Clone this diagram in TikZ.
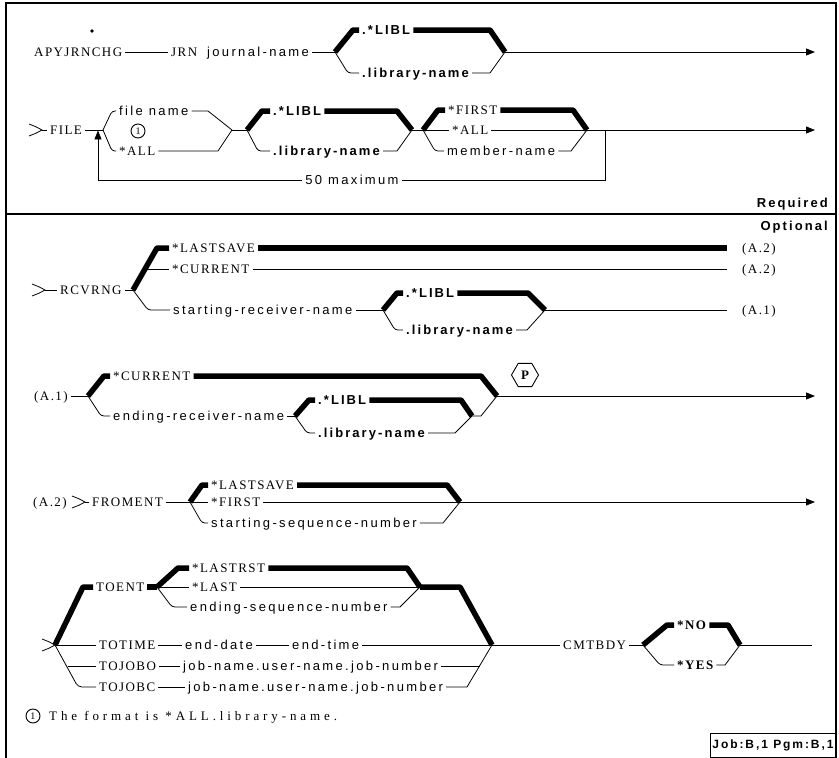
\documentclass[tikz,border=0pt]{standalone}
\usepackage{fontspec}
\setmainfont{Liberation Serif}
\newfontfamily\kwf{Liberation Serif}[LetterSpace=11]
\newfontfamily\ftf{Liberation Serif}[LetterSpace=30]
\newfontfamily\vrf{Liberation Sans}[LetterSpace=18]
\newfontfamily\bdf{Liberation Sans}[LetterSpace=16]
\usetikzlibrary{arrows.meta,shapes.geometric}
\newcommand\KW{\kwf\fontsize{13}{15}\selectfont}
\newcommand\VR{\vrf\fontsize{13}{15}\selectfont}
\newcommand\BD{\bdf\bfseries\fontsize{13}{15}\selectfont}
\newcommand\gtmark[2]{\draw[thn, line join=miter] (#1-13,#2-6) -- (#1-6,#2-3.2) -- (#1,#2) -- (#1-6,#2+3.2) -- (#1-13,#2+6);}
\tikzset{
 tx/.style={anchor=west, inner xsep=3pt, inner ysep=1pt, text height=9pt, text depth=0pt},
 kw/.style={tx, font=\KW},
 kwb/.style={tx, font=\KW\bfseries},
 vr/.style={tx, font=\VR},
 bd/.style={tx, font=\BD},
 thn/.style={line width=0.8pt},
 thk/.style={line width=5.5pt, line join=round},
 arr/.style={thn, -{Triangle[length=9pt,width=7pt]}},
 fnum/.style={circle, draw, line width=0.9pt, inner sep=0pt, minimum size=14pt, font=\fontsize{10}{11}\selectfont},
}
\begin{document}
\begin{tikzpicture}[x=1pt,y=-1pt]
\useasboundingbox (0,0) rectangle (839,758);
% frame
\draw[line width=1.1pt] (6,758) -- (6,3) -- (836,3) -- (836,758);
\draw[line width=1.1pt] (6,214) -- (836,214);
\fill (92,31) circle (1.8);
% ---------------- Row 1
\node[kw] (apy) at (31,52) {APYJRNCHG};
\node[kw] (jrn) at (168,52) {JRN};
\node[vr] (jn) at (204,52) {journal-name};
\draw[thn] (apy.east) -- (jrn.west);
\coordinate (f1a) at (335,52);
\coordinate (f1b) at (505,52);
\coordinate (e1) at (815,52);
\draw[thn] (jn.east) -- (f1a);
\node[bd] (l1a) at (359,30) {.*LIBL};
\node[bd] (l1b) at (359,73) {.library-name};
\draw[thk] (f1a) -- (353,30) -- (l1a.west);
\draw[thk] (l1a.east) -- (490,30) -- (f1b);
\draw[thn,rounded corners=3pt] (f1a) -- (348,73) -- (l1b.west);
\draw[thn] (l1b.east) -- (490,73) -- (f1b);
\draw[arr] (f1b) -- (e1);
% ---------------- Row 2
\gtmark{42}{130}
\coordinate (s2) at (42,130);
\node[kw] (file) at (47,130) {FILE};
\draw[thn] (s2) -- (file.west);
\coordinate (f2a) at (103,130);
\draw[thn] (file.east) -- (f2a);
\node[vr] (fn) at (116,111) {file name};
\node[kw] (all1) at (116,151) {*ALL};
\node[fnum] (c1) at (138,131) {1};
\coordinate (f2b) at (232,130);
\draw[thn,rounded corners=3pt] (f2a) -- (112,111) -- (fn.west);
\draw[thn] (fn.east) -- (208,111) -- (f2b);
\draw[thn,rounded corners=3pt] (f2a) -- (112,151) -- (all1.west);
\draw[thn] (all1.east) -- (218,151) -- (f2b);
\coordinate (f2c) at (247,130);
\coordinate (f2d) at (412,130);
\draw[thn] (f2b) -- (f2c);
\node[bd] (l2a) at (270,111) {.*LIBL};
\node[bd] (l2b) at (270,151) {.library-name};
\draw[thk] (f2c) -- (262,111) -- (l2a.west);
\draw[thk] (l2a.east) -- (397,111) -- (f2d);
\draw[thn,rounded corners=3pt] (f2c) -- (258,151) -- (l2b.west);
\draw[thn] (l2b.east) -- (397,151) -- (f2d);
\coordinate (f2e) at (423,130);
\coordinate (f2f) at (587,130);
\draw[thn] (f2d) -- (f2e);
\node[kw] (fst) at (445,110) {*FIRST};
\node[kw] (all2) at (449,130) {*ALL};
\node[vr] (mem) at (444,151) {member-name};
\draw[thk] (f2e) -- (438,110) -- (fst.west);
\draw[thk] (fst.east) -- (573,110) -- (f2f);
\draw[thn] (f2e) -- (all2.west);
\draw[thn] (all2.east) -- (f2f);
\draw[thn,rounded corners=3pt] (f2e) -- (435,151) -- (mem.west);
\draw[thn] (mem.east) -- (571,151) -- (f2f);
\coordinate (e2) at (815,130);
\draw[arr] (f2f) -- (e2);
\coordinate (lp1) at (605,130);
\coordinate (lp2) at (605,180);
\coordinate (lp3) at (98,180);
\coordinate (lp4) at (98,130.4);
\node[vr,anchor=center] (max) at (352,180) {50 maximum};
\draw[thn] (lp1) -- (lp2) -- (max.east);
\draw[arr] (max.west) -- (lp3) -- (lp4);
% required / optional
\node[bd,anchor=east] (req) at (831,203) {Required};
\node[bd,anchor=east] (opt) at (831,226) {Optional};
% ---------------- Row 3
\gtmark{45}{290}
\coordinate (s3) at (45,290);
\node[kw] (rc) at (57,290) {RCVRNG};
\draw[thn] (s3) -- (rc.west);
\coordinate (f3a) at (133,290);
\draw[thn] (rc.east) -- (f3a);
\node[kw] (ls3) at (169,248) {*LASTSAVE};
\node[kw] (cu3) at (169,269) {*CURRENT};
\node[vr] (srn) at (170,310) {starting-receiver-name};
\coordinate (a2a) at (727,248);
\coordinate (a2b) at (727,269);
\coordinate (a1a) at (727,310);
\draw[thk] (f3a) -- (157,248) -- (ls3.west);
\draw[thk] (ls3.east) -- (a2a);
\draw[thn] (145,269) -- (cu3.west);
\draw[thn] (cu3.east) -- (a2b);
\node[kw] (A2a) at (739,248) {(A.2)};
\node[kw] (A2b) at (739,269) {(A.2)};
\node[kw] (A1a) at (739,310) {(A.1)};
\draw[thn,rounded corners=3pt] (f3a) -- (148,310) -- (srn.west);
\coordinate (f3b) at (383,310);
\coordinate (f3c) at (545,310);
\draw[thn] (srn.east) -- (f3b);
\node[bd] (l3a) at (403,293) {.*LIBL};
\node[bd] (l3b) at (403,330) {.library-name};
\draw[thk] (f3b) -- (397,293) -- (l3a.west);
\draw[thk] (l3a.east) -- (528,293) -- (f3c);
\draw[thn,rounded corners=3pt] (f3b) -- (395,330) -- (l3b.west);
\draw[thn] (l3b.east) -- (527,330) -- (f3c);
\draw[thn] (f3c) -- (a1a);
% ---------------- Row 4
\node[kw] (a1) at (31,396) {(A.1)};
\coordinate (f4a) at (88,396);
\draw[thn] (a1.east) -- (f4a);
\node[kw] (cu4) at (110,376) {*CURRENT};
\node[vr] (ern) at (110,416) {ending-receiver-name};
\coordinate (f4b) at (497,396);
\draw[thk] (f4a) -- (104,376) -- (cu4.west);
\draw[thk] (cu4.east) -- (481,376) -- (f4b);
\draw[thn,rounded corners=3pt] (f4a) -- (101,416) -- (ern.west);
\coordinate (f4c) at (295,416);
\coordinate (f4d) at (472,416);
\draw[thn] (ern.east) -- (f4c);
\node[bd] (l4a) at (315,400) {.*LIBL};
\node[bd] (l4b) at (315,433) {.library-name};
\draw[thk] (f4c) -- (309,400) -- (l4a.west);
\draw[thk] (l4a.east) -- (461,400) -- (f4d);
\draw[thn,rounded corners=3pt] (f4c) -- (307,433) -- (l4b.west);
\draw[thn] (l4b.east) -- (455,433) -- (f4d);
\draw[thn] (f4d) -- (481,416) -- (f4b);
\node[draw, line width=0.9pt, regular polygon, regular polygon sides=6, minimum size=27pt, inner sep=0pt, font=\KW\bfseries] (pp) at (525,375) {P};
\coordinate (e4) at (815,396);
\draw[arr] (f4b) -- (e4);
% ---------------- Row 5
\node[kw] (a2) at (30,502) {(A.2)};
\gtmark{85}{502}
\coordinate (s5) at (85,502);
\node[kw] (frm) at (89,502) {FROMENT};
\draw[thn] (s5) -- (frm.west);
\coordinate (f5a) at (190,502);
\draw[thn] (frm.east) -- (f5a);
\node[kw] (ls5) at (208,485) {*LASTSAVE};
\node[kw] (fs5) at (208,502) {*FIRST};
\node[vr] (ssn) at (208,523) {starting-sequence-number};
\coordinate (f5b) at (460,502);
\draw[thk] (f5a) -- (202,485) -- (ls5.west);
\draw[thk] (ls5.east) -- (447,485) -- (f5b);
\draw[thn] (f5a) -- (fs5.west);
\draw[thn] (fs5.east) -- (f5b);
\draw[thn,rounded corners=3pt] (f5a) -- (202,523) -- (ssn.west);
\draw[thn] (ssn.east) -- (443,523) -- (f5b);
\coordinate (e5) at (815,502);
\draw[arr] (f5b) -- (e5);
% ---------------- Row 6
\gtmark{55}{645}
\coordinate (f6a) at (55,645);
\node[kw] (toent) at (93,587) {TOENT};
\draw[thk] (f6a) -- (83,587) -- (toent.west);
\coordinate (f6b) at (157,587);
\draw[thk] (toent.east) -- (f6b);
\node[kw] (lr6) at (189,568) {*LASTRST};
\node[kw] (la6) at (189,587) {*LAST};
\node[vr] (esn) at (187,607) {ending-sequence-number};
\coordinate (f6c) at (420,587);
\draw[thk] (f6b) -- (178,568) -- (lr6.west);
\draw[thk] (lr6.east) -- (407,568) -- (f6c);
\draw[thn] (f6b) -- (la6.west);
\draw[thn] (la6.east) -- (f6c);
\draw[thn,rounded corners=3pt] (f6b) -- (172,607) -- (esn.west);
\draw[thn] (esn.east) -- (400,607) -- (f6c);
\coordinate (f6d) at (492,645);
\draw[thk] (f6c) -- (460,587) -- (f6d);
\node[kw] (tt) at (96,645) {TOTIME};
\node[vr] (ed) at (182,645) {end-date};
\node[vr] (et) at (289,645) {end-time};
\draw[thn] (f6a) -- (tt.west);
\draw[thn] (tt.east) -- (ed.west);
\draw[thn] (ed.east) -- (et.west);
\draw[thn] (et.east) -- (f6d);
\node[kw] (tjo) at (96,666) {TOJOBO};
\node[vr] (jo) at (180,666) {job-name.user-name.job-number};
\node[kw] (tjc) at (96,687) {TOJOBC};
\node[vr] (jc) at (185,687) {job-name.user-name.job-number};
\draw[thn,rounded corners=4pt] (f6a) -- (78,687) -- (tjc.west);
\draw[thn] (67.5,666) -- (tjo.west);
\draw[thn] (tjo.east) -- (jo.west);
\draw[thn] (jo.east) -- (479.5,666);
\draw[thn] (tjc.east) -- (jc.west);
\draw[thn] (jc.east) -- (467,687) -- (f6d);
\node[kw] (cmt) at (560,645) {CMTBDY};
\draw[thn] (f6d) -- (cmt.west);
\coordinate (f6e) at (643,645);
\draw[thn] (cmt.east) -- (f6e);
\node[kwb] (no) at (674,625) {*NO};
\node[kwb] (yes) at (674,665) {*YES};
\coordinate (f6f) at (740,645);
\draw[thk] (f6e) -- (667,625) -- (no.west);
\draw[thk] (no.east) -- (728,625) -- (f6f);
\draw[thn,rounded corners=3pt] (f6e) -- (660,665) -- (yes.west);
\draw[thn] (yes.east) -- (725,665) -- (f6f);
\coordinate (e6) at (812,645);
\draw[thn] (f6f) -- (e6);
% ---------------- footnote
\node[fnum] (c2) at (33,716) {1};
\node[tx, font=\ftf\fontsize{13}{15}\selectfont] (fnote) at (46,716) {The format is *ALL.library-name.};
% ---------------- job box
\node[draw, line width=1.1pt, font=\bdf\bfseries\fontsize{12}{14}\selectfont, minimum width=123pt, minimum height=24pt, anchor=south east, inner sep=2pt] (job) at (836,758) {Job:B,1 Pgm:B,1};
\end{tikzpicture}
\end{document}
